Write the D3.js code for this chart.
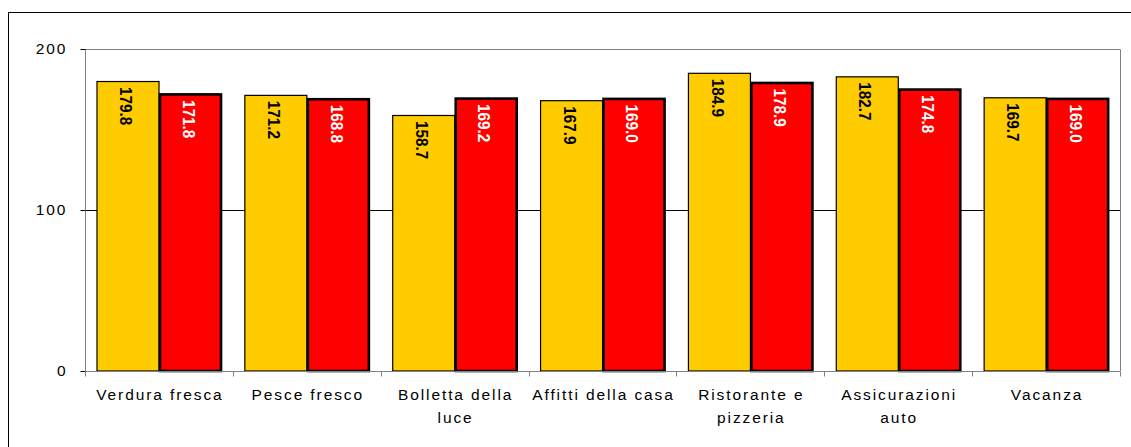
<!DOCTYPE html>
<html><head><meta charset="utf-8">
<script src="https://cdn.jsdelivr.net/npm/d3@7"></script>
<style>html,body{margin:0;padding:0;background:#fff;}svg{display:block;}</style>
</head><body>
<svg id="c" width="1131" height="447"></svg>
<script>
const categories = [["Verdura fresca"],["Pesce fresco"],["Bolletta della","luce"],["Affitti della casa"],["Ristorante e","pizzeria"],["Assicurazioni","auto"],["Vacanza"]];
const series1 = [179.8,171.2,158.7,167.9,184.9,182.7,169.7];
const series2 = [171.8,168.8,169.2,169.0,178.9,174.8,169.0];
const yTicks = [0,100,200];

const FONT = "Arial, 'Liberation Sans', sans-serif";
const svg = d3.select("#c");
const L = 85, R = 1120, T = 49, B = 371;
// outer frame
svg.append("rect").attr("x",8.5).attr("y",12.5).attr("width",1140).attr("height",460)
  .attr("fill","none").attr("stroke","#000").attr("stroke-width",1);

const x = d3.scaleBand().domain(d3.range(categories.length)).range([L,R]).paddingInner(0).paddingOuter(0);
const y = d3.scaleLinear().domain([0,200]).range([B,T]);

// plot area border (top, right)
svg.append("path").attr("d",`M${L},${T+0.5}H${R+0.5}V${B}`).attr("fill","none").attr("stroke","#808080").attr("stroke-width",1);
// gridline at 100
svg.append("g").selectAll("line").data(yTicks.filter(t=>t>0 && t<200)).join("line")
  .attr("x1",L).attr("x2",R).attr("y1",d=>Math.round(y(d))+0.5).attr("y2",d=>Math.round(y(d))+0.5)
  .attr("stroke","#000").attr("stroke-width",1);

const bw = 62, gap = 12;
const g = svg.append("g");
function vlabel(cx, top, txt, color){
  g.append("text").attr("transform",`translate(${cx-1.5},${top+5.5}) rotate(90) scale(0.9,1)`)
    .attr("font-family",FONT).attr("font-weight","bold").attr("font-size",17)
    .attr("dominant-baseline","central")
    .attr("fill",color).text(txt);
}
categories.forEach((c,i)=>{
  const x0 = x(i) + gap;
  g.append("rect").attr("x",x0).attr("y",y(series1[i])).attr("width",bw).attr("height",y(0)-y(series1[i]))
    .attr("fill","#FFCC00").attr("stroke","#000").attr("stroke-width",1.2);
  g.append("rect").attr("x",x0+bw+1).attr("y",y(series2[i])).attr("width",bw-1).attr("height",y(0)-y(series2[i]))
    .attr("fill","#FF0000").attr("stroke","#000").attr("stroke-width",2.6);
  vlabel(x0+bw/2, y(series1[i]), series1[i].toFixed(1), "#000");
  vlabel(x0+bw+1+(bw-1)/2, y(series2[i]), series2[i].toFixed(1), "#fff");
});

// y axis
const ya = svg.append("g").attr("transform",`translate(${L+0.5},0)`)
  .call(d3.axisLeft(y).tickValues(yTicks).tickSize(5).tickPadding(13).tickFormat(d3.format("d")));
ya.select(".domain").attr("stroke","#808080").attr("d",`M0,${T}V${B}`);
ya.selectAll(".tick line").attr("stroke","#000");
ya.selectAll("text").attr("font-family",FONT).attr("font-size",15.5).attr("letter-spacing","2px").attr("fill","#000");

// x axis
const xa = svg.append("g").attr("transform",`translate(0,${B+0.5})`);
xa.append("line").attr("x1",L).attr("x2",R).attr("stroke","#808080");
xa.selectAll(".t").data(d3.range(categories.length+1)).join("line")
  .attr("x1",d=>Math.round(L + d*x.bandwidth())+0.5).attr("x2",d=>Math.round(L + d*x.bandwidth())+0.5)
  .attr("y1",0).attr("y2",5).attr("stroke","#808080");
const lab = xa.selectAll(".lab").data(categories).join("text")
  .attr("font-family",FONT).attr("font-size",15.5).attr("fill","#000")
  .attr("text-anchor","middle").attr("letter-spacing","1.9px");
lab.each(function(d,i){
  const t = d3.select(this);
  d.forEach((ln,j)=>{
    t.append("tspan").attr("x",x(i)+x.bandwidth()/2+1).attr("y",28+j*23).text(ln);
  });
});
</script>
</body></html>
